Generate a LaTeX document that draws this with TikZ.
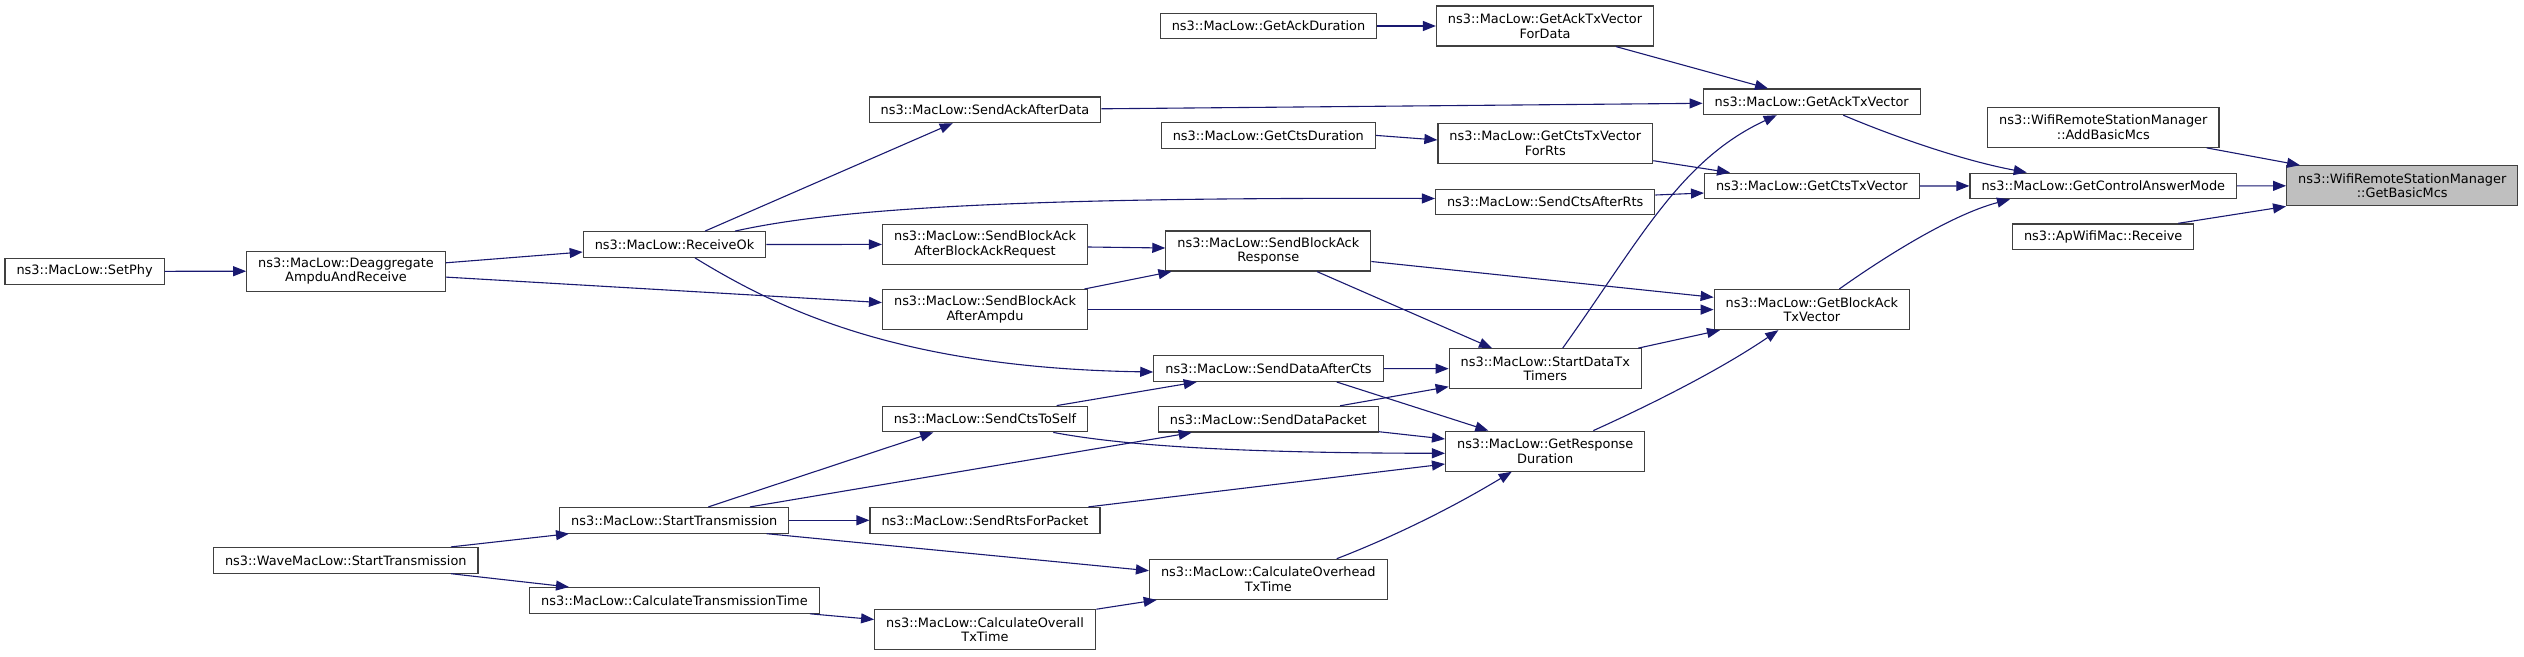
\documentclass[tikz,border=0pt]{standalone}
\usepackage{fontspec}
\setmainfont{DejaVu Sans}
\usetikzlibrary{arrows.meta}
\definecolor{edgeblue}{HTML}{191970}
\definecolor{focusgray}{HTML}{BFBFBF}

\begin{document}
\begin{tikzpicture}[x=1pt, y=-1pt,
  every node/.style={font=\fontsize{12.9}{14.6}\selectfont},
  box/.style={draw=black!75, line width=1.2pt, fill=white, align=center, inner xsep=11.5pt, inner ysep=2pt, minimum height=25.6pt},
  tall/.style={minimum height=40pt},
  focus/.style={fill=focusgray},
  call/.style={draw=edgeblue, line width=1.1pt, -{Triangle[length=13pt,width=10pt]}}]
\useasboundingbox (0,0) rectangle (2524,656);

% callers, left to right
\node[box] (setphy) at (84.6,271.4) {ns3::MacLow::SetPhy};
\node[box,tall] (deagg) at (346,271.1) {ns3::MacLow::Deaggregate\\AmpduAndReceive};
\node[box] (wavetx) at (345.8,560.3) {ns3::WaveMacLow::StartTransmission};
\node[box] (recvok) at (674.5,244.5) {ns3::MacLow::ReceiveOk};
\node[box] (starttx) at (674.3,520.3) {ns3::MacLow::StartTransmission};
\node[box] (calctt) at (674.4,600.4) {ns3::MacLow::CalculateTransmissionTime};
\node[box] (sendack) at (985,109.8) {ns3::MacLow::SendAckAfterData};
\node[box,tall] (sendbareq) at (985,244.4) {ns3::MacLow::SendBlockAck\\AfterBlockAckRequest};
\node[box,tall] (sendbaampdu) at (985,309.6) {ns3::MacLow::SendBlockAck\\AfterAmpdu};
\node[box] (sendctsself) at (985,419) {ns3::MacLow::SendCtsToSelf};
\node[box] (sendrts) at (985,520.3) {ns3::MacLow::SendRtsForPacket};
\node[box,tall] (calcoverall) at (985,629.8) {ns3::MacLow::CalculateOverall\\TxTime};
\node[box] (ackdur) at (1268.5,26) {ns3::MacLow::GetAckDuration};
\node[box] (ctsdur) at (1268.3,135.4) {ns3::MacLow::GetCtsDuration};
\node[box,tall] (sendbaresp) at (1268.3,251) {ns3::MacLow::SendBlockAck\\Response};
\node[box] (senddataac) at (1268.5,368.6) {ns3::MacLow::SendDataAfterCts};
\node[box] (senddatapkt) at (1268.3,419.2) {ns3::MacLow::SendDataPacket};
\node[box,tall] (calcoverhead) at (1268.3,579.3) {ns3::MacLow::CalculateOverhead\\TxTime};
\node[box,tall] (acktxvdata) at (1545,26) {ns3::MacLow::GetAckTxVector\\ForData};
\node[box,tall] (ctstxvrts) at (1545.3,143.2) {ns3::MacLow::GetCtsTxVector\\ForRts};
\node[box] (sendctsrts) at (1545.2,201.9) {ns3::MacLow::SendCtsAfterRts};
\node[box,tall] (starttimers) at (1545.3,368.7) {ns3::MacLow::StartDataTx\\Timers};
\node[box,tall] (respdur) at (1545.2,451.2) {ns3::MacLow::GetResponse\\Duration};
\node[box] (acktxv) at (1811.7,101.8) {ns3::MacLow::GetAckTxVector};
\node[box] (ctstxv) at (1811.9,186) {ns3::MacLow::GetCtsTxVector};
\node[box,tall] (batxv) at (1811.9,309.6) {ns3::MacLow::GetBlockAck\\TxVector};
\node[box,tall] (addmcs) at (2103.3,127.3) {ns3::WifiRemoteStationManager\\::AddBasicMcs};
\node[box] (ctrlmode) at (2103.3,185.9) {ns3::MacLow::GetControlAnswerMode};
\node[box] (aprecv) at (2103.2,236.7) {ns3::ApWifiMac::Receive};
% the function itself
\node[box,tall,focus] (basicmcs) at (2402.2,185.8) {ns3::WifiRemoteStationManager\\::GetBasicMcs};

% calls
\draw[call] (setphy) -- (deagg);
\draw[call] ([yshift=8.3]deagg.east) -- ([yshift=-7.5]recvok.west);
\draw[call] ([yshift=-6]deagg.east) -- ([yshift=7]sendbaampdu.west);
\draw[call] ([xshift=30.5]recvok.north) -- ([xshift=-32.3]sendack.south);
\draw[call] ([xshift=60.5]recvok.north) .. controls (830,210) and (1000,197) .. ([yshift=3.4]sendctsrts.west);
\draw[call] (recvok) -- (sendbareq);
\draw[call] ([xshift=20.5]recvok.south) .. controls (780,310) and (900,368) .. ([yshift=-3.4]senddataac.west);
\draw[call] ([yshift=1]sendack.east) -- ([yshift=-1.5]acktxv.west);
\draw[call] (ackdur) -- (acktxvdata);
\draw[call] ([xshift=71]acktxvdata.south) -- ([xshift=-43.7]acktxv.north);
\draw[call] (ctsdur.east) -- ([yshift=3.2]ctstxvrts.west);
\draw[call] ([yshift=-17.5]ctstxvrts.east) -- ([xshift=-81.9]ctstxv.north);
\draw[call] ([yshift=6.9]sendctsrts.east) -- ([yshift=-7]ctstxv.west);
\draw[call] ([yshift=-2.6]sendbareq.east) -- ([yshift=3]sendbaresp.west);
\draw[call] ([xshift=99.4]sendbaampdu.north) -- ([xshift=-96.9]sendbaresp.south);
\draw[call] (sendbaampdu) -- (batxv);
\draw[call] ([yshift=-10.5]sendbaresp.east) -- ([yshift=12.3]batxv.west);
\draw[call] ([xshift=48.7]sendbaresp.south) -- ([xshift=-53.3]starttimers.north);
\draw[call] (senddataac) -- (starttimers);
\draw[call] ([xshift=68.2]senddataac.south) -- ([xshift=-56.9]respdur.north);
\draw[call] ([xshift=71.7]sendctsself.north) -- ([xshift=-71.8]senddataac.south);
\draw[call] ([xshift=68.3]sendctsself.south) .. controls (1120,445) and (1230,453) .. ([yshift=-2.1]respdur.west);
\draw[call] ([xshift=71.7]senddatapkt.north) -- ([yshift=-18]starttimers.west);
\draw[call] ([yshift=-12.5]senddatapkt.east) -- ([yshift=12.2]respdur.west);
\draw[call] ([xshift=34]starttx.north) -- ([xshift=-51.7]sendctsself.south);
\draw[call] ([xshift=75.7]starttx.north) -- ([xshift=-76.6]senddatapkt.south);
\draw[call] (starttx) -- (sendrts);
\draw[call] ([xshift=92.4]starttx.south) -- ([yshift=8.6]calcoverhead.west);
\draw[call] ([xshift=103.3]sendrts.north) -- ([yshift=-12.8]respdur.west);
\draw[call] ([xshift=105.2]wavetx.north) -- ([xshift=-105.3]starttx.south);
\draw[call] ([xshift=105.2]wavetx.south) -- ([xshift=-105.4]calctt.north);
\draw[call] ([xshift=135.6]calctt.south) -- ([yshift=10.3]calcoverall.west);
\draw[call] ([xshift=111.4]calcoverall.north) -- ([xshift=-111.6]calcoverhead.south);
\draw[call] ([xshift=68.4]calcoverhead.north) .. controls (1380,542) and (1440,515) .. ([xshift=-33.5]respdur.south);
\draw[call] ([xshift=17.4]starttimers.north) .. controls (1640,240) and (1680,160) .. ([xshift=-35]acktxv.south);
\draw[call] ([xshift=93]starttimers.north) -- ([xshift=-91.9]batxv.south);
\draw[call] ([xshift=48.1]respdur.north) .. controls (1650,405) and (1720,370) .. ([xshift=-33.6]batxv.south);
\draw[call] ([xshift=31.6]acktxv.south) .. controls (1890,135) and (1960,160) .. ([xshift=-76.6]ctrlmode.north);
\draw[call] (ctstxv) -- (ctrlmode);
\draw[call] ([xshift=27.4]batxv.north) .. controls (1880,260) and (1950,215) .. ([xshift=-93.3]ctrlmode.south);
\draw[call] (ctrlmode) -- (basicmcs);
\draw[call] ([xshift=103.4]addmcs.south) -- ([xshift=-102.2]basicmcs.north);
\draw[call] ([xshift=75.1]aprecv.north) -- (basicmcs.south west);
\end{tikzpicture}
\end{document}
